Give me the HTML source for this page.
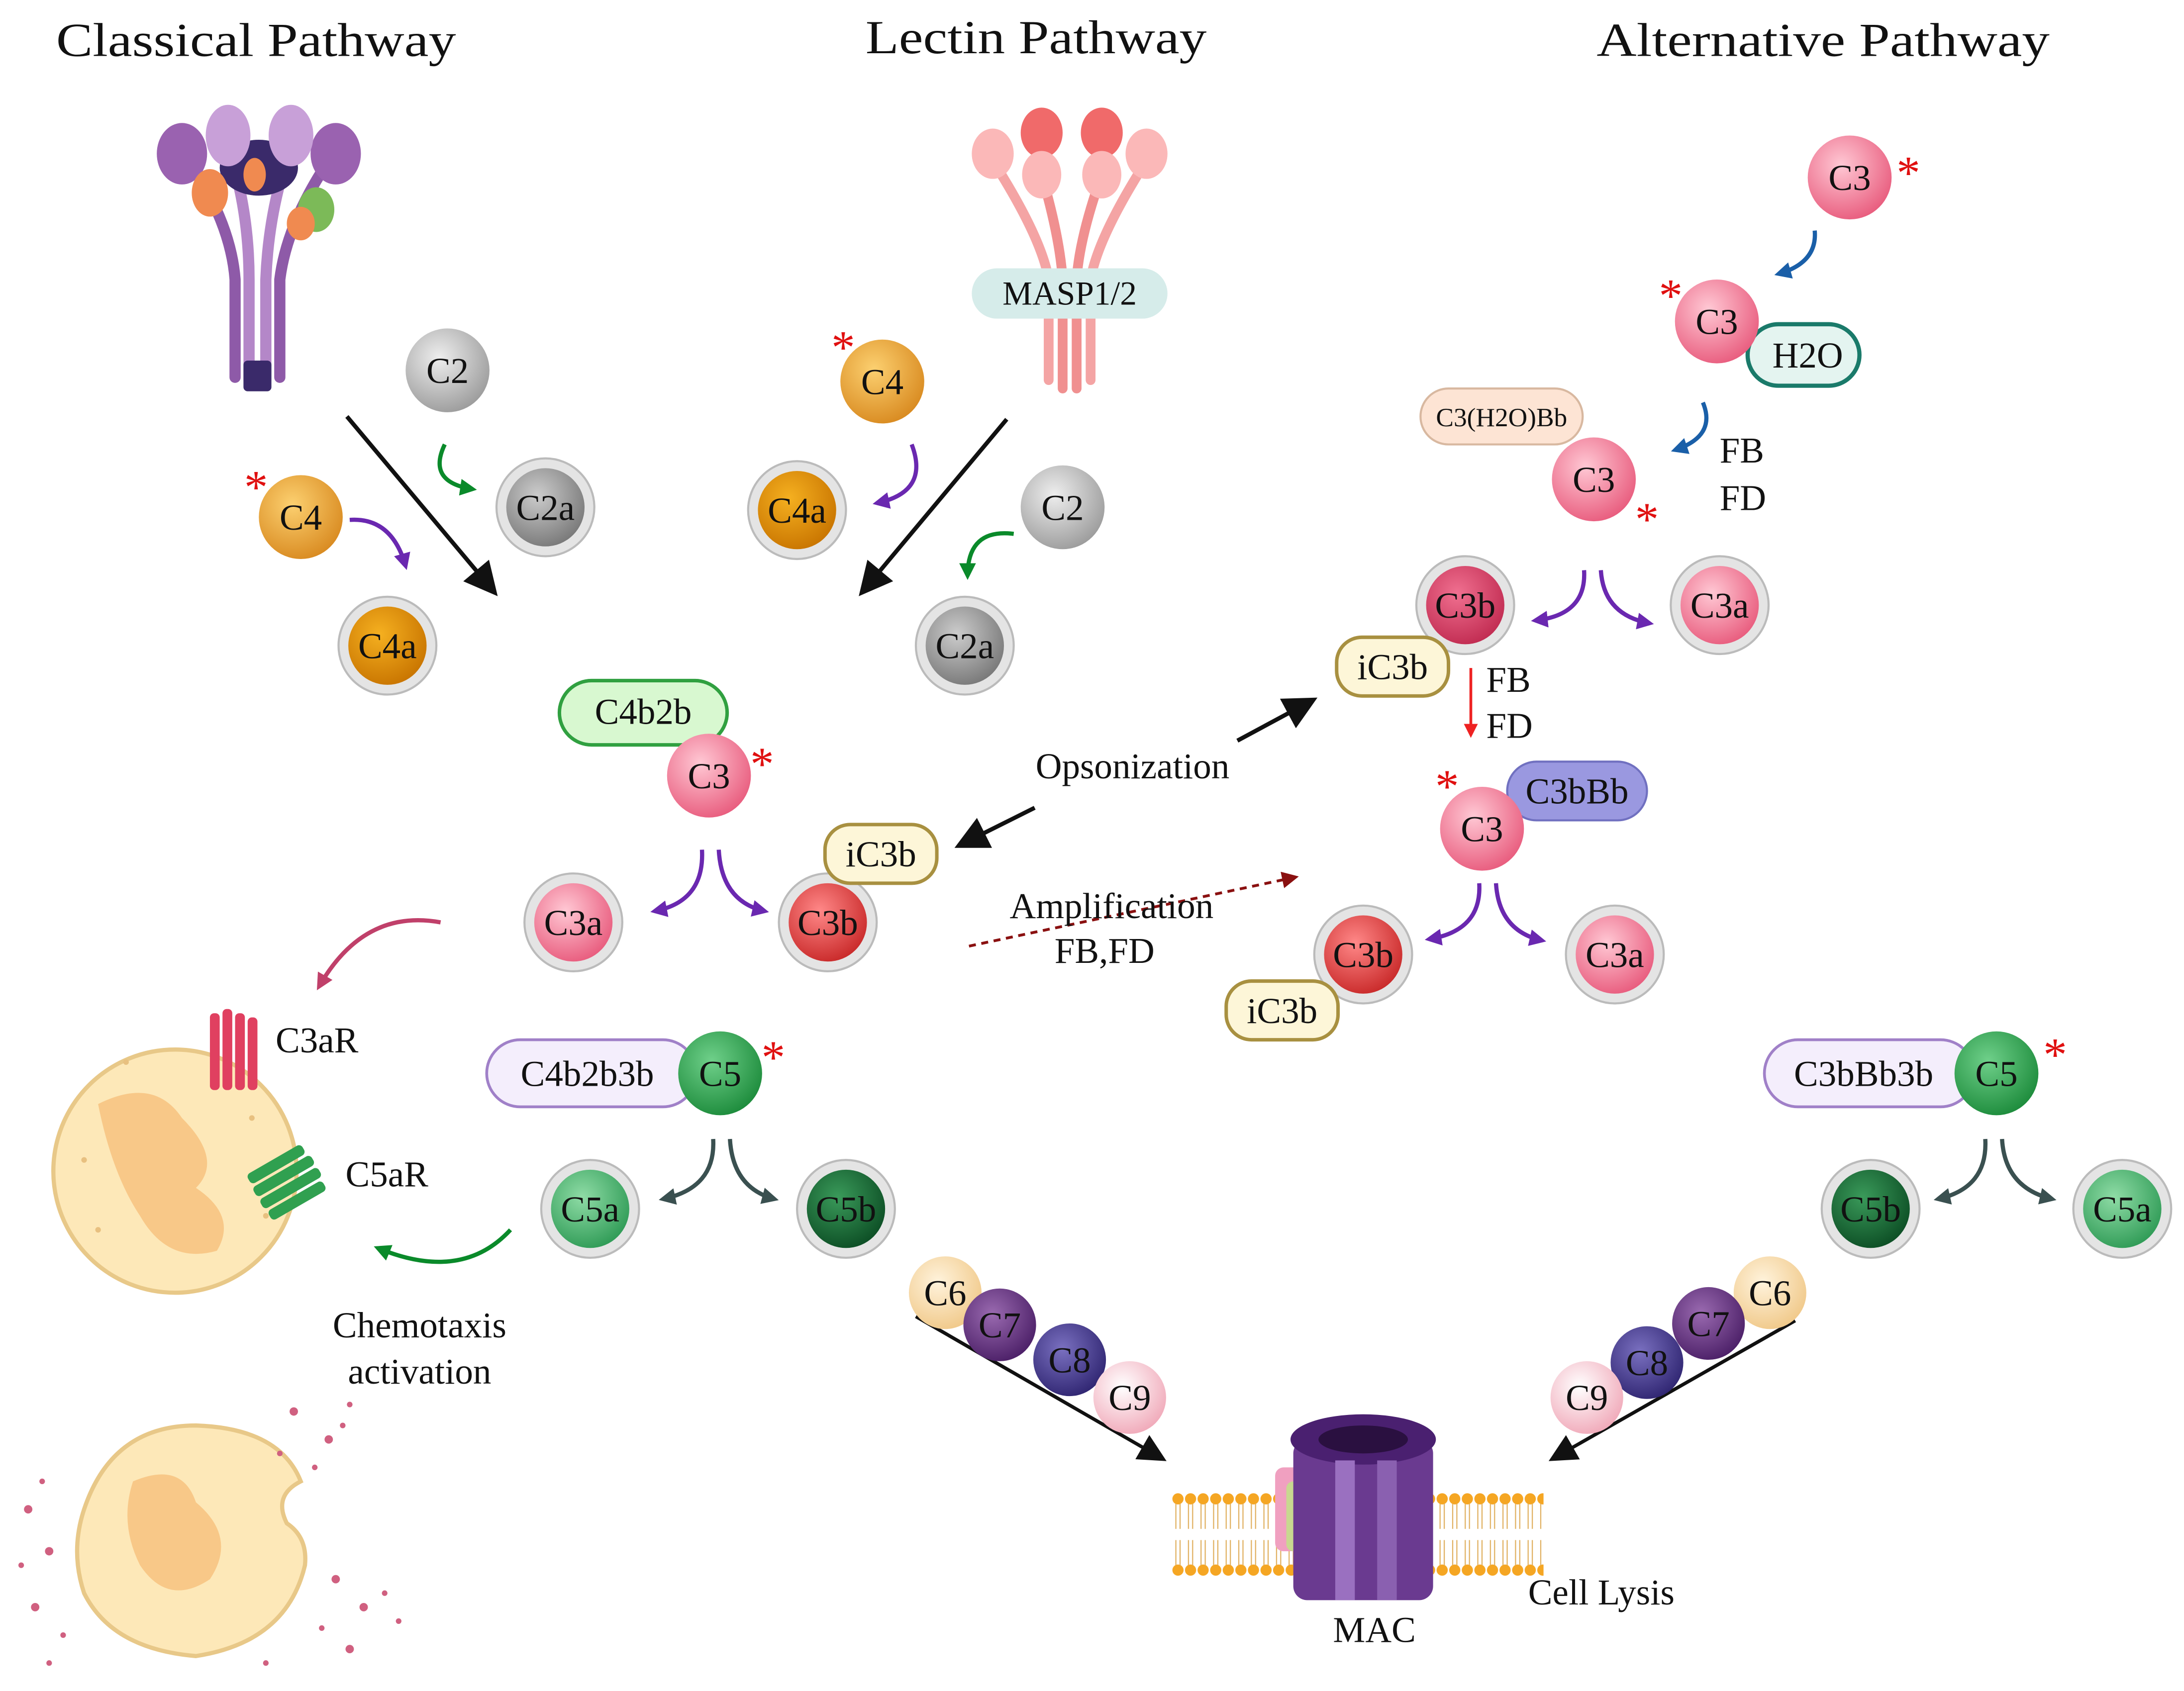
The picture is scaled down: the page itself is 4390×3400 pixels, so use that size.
<!DOCTYPE html>
<html><head><meta charset="utf-8"><style>
html,body{margin:0;padding:0;background:#fff;}
svg{display:block;}
text{font-family:"Liberation Serif",serif;fill:#111;}
</style></head><body>
<svg width="4390" height="3400" viewBox="0 0 1562 1210" xmlns="http://www.w3.org/2000/svg">
<defs>
<radialGradient id="gGrey" cx="0.4" cy="0.35" r="0.7"><stop offset="0" stop-color="#eee"/><stop offset="1" stop-color="#9a9a9a"/></radialGradient>
<radialGradient id="gGreyD" cx="0.4" cy="0.35" r="0.7"><stop offset="0" stop-color="#ccc"/><stop offset="1" stop-color="#777"/></radialGradient>
<radialGradient id="gOr" cx="0.4" cy="0.35" r="0.7"><stop offset="0" stop-color="#fcd070"/><stop offset="1" stop-color="#d8891f"/></radialGradient>
<radialGradient id="gOrD" cx="0.4" cy="0.35" r="0.7"><stop offset="0" stop-color="#f5b020"/><stop offset="1" stop-color="#c87400"/></radialGradient>
<radialGradient id="gPk" cx="0.4" cy="0.35" r="0.7"><stop offset="0" stop-color="#ffc8d4"/><stop offset="1" stop-color="#e85a7c"/></radialGradient>
<radialGradient id="gPkD" cx="0.4" cy="0.35" r="0.7"><stop offset="0" stop-color="#f07090"/><stop offset="1" stop-color="#c02a50"/></radialGradient>
<radialGradient id="gRd" cx="0.4" cy="0.35" r="0.7"><stop offset="0" stop-color="#f88"/><stop offset="1" stop-color="#c82828"/></radialGradient>
<radialGradient id="gGn" cx="0.4" cy="0.35" r="0.7"><stop offset="0" stop-color="#6fd08a"/><stop offset="1" stop-color="#1b8a3a"/></radialGradient>
<radialGradient id="gGnD" cx="0.4" cy="0.35" r="0.7"><stop offset="0" stop-color="#3a9a5a"/><stop offset="1" stop-color="#0c4d24"/></radialGradient>
<radialGradient id="gGnL" cx="0.4" cy="0.35" r="0.7"><stop offset="0" stop-color="#8fdca6"/><stop offset="1" stop-color="#2e9a55"/></radialGradient>
<radialGradient id="gPe" cx="0.4" cy="0.35" r="0.7"><stop offset="0" stop-color="#fff3dc"/><stop offset="1" stop-color="#f0c888"/></radialGradient>
<radialGradient id="gPu" cx="0.4" cy="0.35" r="0.7"><stop offset="0" stop-color="#9a6ab0"/><stop offset="1" stop-color="#4a1e66"/></radialGradient>
<radialGradient id="gBl" cx="0.4" cy="0.35" r="0.7"><stop offset="0" stop-color="#7a70c0"/><stop offset="1" stop-color="#2e2470"/></radialGradient>
<radialGradient id="gLp" cx="0.4" cy="0.35" r="0.7"><stop offset="0" stop-color="#fff"/><stop offset="1" stop-color="#f0a8b8"/></radialGradient>
<marker id="ak" markerWidth="8" markerHeight="8" refX="6" refY="4" orient="auto" markerUnits="strokeWidth"><path d="M0,0 L8,4 L0,8 z" fill="#111"/></marker>
<marker id="ap" markerWidth="4" markerHeight="4" refX="3" refY="2" orient="auto" markerUnits="strokeWidth"><path d="M0,0 L4,2 L0,4 z" fill="#6a28b0"/></marker>
<marker id="ag" markerWidth="4" markerHeight="4" refX="3" refY="2" orient="auto" markerUnits="strokeWidth"><path d="M0,0 L4,2 L0,4 z" fill="#0a8a2a"/></marker>
<marker id="ab" markerWidth="4" markerHeight="4" refX="3" refY="2" orient="auto" markerUnits="strokeWidth"><path d="M0,0 L4,2 L0,4 z" fill="#1a5fa8"/></marker>
<marker id="as" markerWidth="4" markerHeight="4" refX="3" refY="2" orient="auto" markerUnits="strokeWidth"><path d="M0,0 L4,2 L0,4 z" fill="#3a5050"/></marker>
<marker id="ar" markerWidth="5" markerHeight="5" refX="3" refY="2.5" orient="auto" markerUnits="strokeWidth"><path d="M0,0 L5,2.5 L0,5 z" fill="#e22"/></marker>
<marker id="adr" markerWidth="6" markerHeight="6" refX="4" refY="3" orient="auto" markerUnits="strokeWidth"><path d="M0,0 L6,3 L0,6 z" fill="#8a1010"/></marker>
<marker id="apk" markerWidth="4" markerHeight="4" refX="3" refY="2" orient="auto" markerUnits="strokeWidth"><path d="M0,0 L4,2 L0,4 z" fill="#c0406a"/></marker>
<pattern id="lipTop" x="838" y="1068" width="9" height="60" patternUnits="userSpaceOnUse">
<circle cx="4.5" cy="4.5" r="4" fill="#f5a623"/><line x1="3" y1="8" x2="3" y2="26" stroke="#e0b060" stroke-width="0.8"/><line x1="6" y1="8" x2="6" y2="26" stroke="#e0b060" stroke-width="0.8"/>
<circle cx="4.5" cy="55.5" r="4" fill="#f5a623"/><line x1="3" y1="34" x2="3" y2="52" stroke="#e0b060" stroke-width="0.8"/><line x1="6" y1="34" x2="6" y2="52" stroke="#e0b060" stroke-width="0.8"/>
</pattern>
</defs>

<!-- Titles -->
<text x="40" y="40" font-size="34" textLength="286" lengthAdjust="spacingAndGlyphs">Classical Pathway</text>
<text x="619" y="38" font-size="34" textLength="244" lengthAdjust="spacingAndGlyphs">Lectin Pathway</text>
<text x="1142" y="40" font-size="34" textLength="324" lengthAdjust="spacingAndGlyphs">Alternative Pathway</text>

<!-- Classical receptor -->
<g>
<path d="M135,115 Q165,160 168,200 L168,270" stroke="#8e5aa8" stroke-width="8" fill="none" stroke-linecap="round"/>
<path d="M235,115 Q205,160 200,200 L200,270" stroke="#8e5aa8" stroke-width="8" fill="none" stroke-linecap="round"/>
<path d="M163,105 Q178,150 178,200 L178,272" stroke="#b487c8" stroke-width="8" fill="none" stroke-linecap="round"/>
<path d="M208,105 Q192,150 190,200 L190,272" stroke="#b487c8" stroke-width="8" fill="none" stroke-linecap="round"/>
<rect x="174" y="258" width="20" height="22" rx="3" fill="#3a2a6a"/>
<ellipse cx="185" cy="120" rx="28" ry="20" fill="#3a2a6a"/>
<ellipse cx="130" cy="110" rx="18" ry="22" fill="#9a62b0"/>
<ellipse cx="240" cy="110" rx="18" ry="22" fill="#9a62b0"/>
<ellipse cx="163" cy="97" rx="16" ry="22" fill="#c8a0d8"/>
<ellipse cx="208" cy="97" rx="16" ry="22" fill="#c8a0d8"/>
<ellipse cx="150" cy="138" rx="13" ry="17" fill="#f08a50"/>
<ellipse cx="226" cy="150" rx="13" ry="16" fill="#7cba58"/>
<ellipse cx="215" cy="160" rx="10" ry="12" fill="#f08a50"/>
<ellipse cx="182" cy="125" rx="8" ry="12" fill="#f08a50"/>
</g>

<!-- Lectin receptor -->
<g>
<path d="M710,115 Q745,170 750,200 L750,272" stroke="#f4a4a4" stroke-width="7" fill="none" stroke-linecap="round"/>
<path d="M820,115 Q785,170 780,200 L780,272" stroke="#f4a4a4" stroke-width="7" fill="none" stroke-linecap="round"/>
<path d="M745,125 Q758,170 760,200 L760,278" stroke="#f09090" stroke-width="7" fill="none" stroke-linecap="round"/>
<path d="M788,125 Q772,170 770,200 L770,278" stroke="#f09090" stroke-width="7" fill="none" stroke-linecap="round"/>
<ellipse cx="745" cy="95" rx="15" ry="18" fill="#f06a6a"/>
<ellipse cx="788" cy="95" rx="15" ry="18" fill="#f06a6a"/>
<ellipse cx="710" cy="110" rx="15" ry="18" fill="#fbb8b8"/>
<ellipse cx="820" cy="110" rx="15" ry="18" fill="#fbb8b8"/>
<ellipse cx="745" cy="125" rx="14" ry="17" fill="#fbb8b8"/>
<ellipse cx="788" cy="125" rx="14" ry="17" fill="#fbb8b8"/>
<rect x="695" y="192" width="140" height="36" rx="18" fill="#d6ecea"/>
<text x="765" y="218" font-size="24" text-anchor="middle">MASP1/2</text>
</g>

<!-- black arrows -->
<line x1="248" y1="298" x2="352" y2="422" stroke="#111" stroke-width="3" marker-end="url(#ak)"/>
<line x1="720" y1="300" x2="618" y2="422" stroke="#111" stroke-width="3" marker-end="url(#ak)"/>
<line x1="885" y1="530" x2="937" y2="502" stroke="#111" stroke-width="3" marker-end="url(#ak)"/>
<line x1="740" y1="578" x2="688" y2="604" stroke="#111" stroke-width="3" marker-end="url(#ak)"/>
<line x1="655" y1="942" x2="830" y2="1043" stroke="#111" stroke-width="2.5" marker-end="url(#ak)"/>
<line x1="1284" y1="945" x2="1112" y2="1043" stroke="#111" stroke-width="2.5" marker-end="url(#ak)"/>

<!-- curved small arrows -->
<g fill="none" stroke-width="3">
<path d="M318,318 Q305,345 338,350" stroke="#0a8a2a" marker-end="url(#ag)"/>
<path d="M250,372 Q280,370 290,405" stroke="#6a28b0" marker-end="url(#ap)"/>
<path d="M652,318 Q665,352 627,360" stroke="#6a28b0" marker-end="url(#ap)"/>
<path d="M725,382 Q692,378 692,412" stroke="#0a8a2a" marker-end="url(#ag)"/>
<path d="M1298,165 Q1300,188 1272,196" stroke="#1a5fa8" marker-end="url(#ab)"/>
<path d="M1218,288 Q1228,312 1198,322" stroke="#1a5fa8" marker-end="url(#ab)"/>
<path d="M1133,408 Q1135,440 1098,444" stroke="#6a28b0" marker-end="url(#ap)"/>
<path d="M1145,408 Q1147,440 1180,446" stroke="#6a28b0" marker-end="url(#ap)"/>
<path d="M1058,632 Q1060,666 1022,672" stroke="#6a28b0" marker-end="url(#ap)"/>
<path d="M1070,632 Q1072,666 1103,673" stroke="#6a28b0" marker-end="url(#ap)"/>
<path d="M502,608 Q504,645 468,652" stroke="#6a28b0" marker-end="url(#ap)"/>
<path d="M514,608 Q516,645 547,652" stroke="#6a28b0" marker-end="url(#ap)"/>
<path d="M510,815 Q512,850 474,858" stroke="#3a5050" marker-end="url(#as)"/>
<path d="M522,815 Q524,850 554,858" stroke="#3a5050" marker-end="url(#as)"/>
<path d="M1420,815 Q1422,850 1386,858" stroke="#3a5050" marker-end="url(#as)"/>
<path d="M1432,815 Q1434,850 1468,858" stroke="#3a5050" marker-end="url(#as)"/>
<path d="M315,660 Q260,650 228,706" stroke="#c0406a" marker-end="url(#apk)"/>
<path d="M365,880 Q330,918 270,893" stroke="#0a8a2a" marker-end="url(#ag)"/>
</g>
<line x1="1052" y1="478" x2="1052" y2="524" stroke="#e22" stroke-width="2" marker-end="url(#ar)"/>
<line x1="693" y1="677" x2="925" y2="628" stroke="#8a1010" stroke-width="2" stroke-dasharray="5,4" marker-end="url(#adr)"/>

<!-- Balls -->
<g font-size="26" text-anchor="middle">
<g fill="#e4e4e4" stroke="#bbb" stroke-width="1.5">
<circle cx="390" cy="363" r="35"/><circle cx="277" cy="462" r="35"/>
<circle cx="570" cy="365" r="35"/><circle cx="690" cy="462" r="35"/>
<circle cx="1048" cy="433" r="35"/><circle cx="1230" cy="433" r="35"/>
<circle cx="975" cy="683" r="35"/><circle cx="1155" cy="683" r="35"/>
<circle cx="410" cy="660" r="35"/><circle cx="592" cy="660" r="35"/>
<circle cx="422" cy="865" r="35"/><circle cx="605" cy="865" r="35"/>
<circle cx="1338" cy="865" r="35"/><circle cx="1518" cy="865" r="35"/>
</g>
<circle cx="320" cy="265" r="30" fill="url(#gGrey)"/><text x="320" y="274">C2</text>
<circle cx="390" cy="363" r="28" fill="url(#gGreyD)"/><text x="390" y="372">C2a</text>
<circle cx="215" cy="370" r="30" fill="url(#gOr)"/><text x="215" y="379">C4</text>
<circle cx="277" cy="462" r="28" fill="url(#gOrD)"/><text x="277" y="471">C4a</text>
<circle cx="631" cy="273" r="30" fill="url(#gOr)"/><text x="631" y="282">C4</text>
<circle cx="570" cy="365" r="28" fill="url(#gOrD)"/><text x="570" y="374">C4a</text>
<circle cx="760" cy="363" r="30" fill="url(#gGrey)"/><text x="760" y="372">C2</text>
<circle cx="690" cy="462" r="28" fill="url(#gGreyD)"/><text x="690" y="471">C2a</text>

<circle cx="1323" cy="127" r="30" fill="url(#gPk)"/><text x="1323" y="136">C3</text>
<rect x="1250" y="232" width="80" height="44" rx="22" fill="#e4f4f0" stroke="#1a7a6a" stroke-width="3"/>
<text x="1293" y="263">H2O</text>
<circle cx="1228" cy="230" r="30" fill="url(#gPk)"/><text x="1228" y="239">C3</text>
<rect x="1016" y="278" width="116" height="40" rx="20" fill="#fde4d4" stroke="#d8b8a0" stroke-width="1.5"/>
<text x="1074" y="305" font-size="19">C3(H2O)Bb</text>
<circle cx="1140" cy="343" r="30" fill="url(#gPk)"/><text x="1140" y="352">C3</text>
<circle cx="1048" cy="433" r="28" fill="url(#gPkD)"/><text x="1048" y="442">C3b</text>
<circle cx="1230" cy="433" r="28" fill="url(#gPk)"/><text x="1230" y="442">C3a</text>
<rect x="956" y="456" width="80" height="42" rx="18" fill="#fdf6d8" stroke="#a89040" stroke-width="2.5"/>
<text x="996" y="486">iC3b</text>
<rect x="1078" y="545" width="100" height="42" rx="21" fill="#9a98e0" stroke="#7070c0" stroke-width="1.5"/>
<text x="1128" y="575">C3bBb</text>
<circle cx="1060" cy="593" r="30" fill="url(#gPk)"/><text x="1060" y="602">C3</text>
<circle cx="975" cy="683" r="28" fill="url(#gRd)"/><text x="975" y="692">C3b</text>
<rect x="877" y="702" width="80" height="42" rx="18" fill="#fdf6d8" stroke="#a89040" stroke-width="2.5"/>
<text x="917" y="732">iC3b</text>
<circle cx="1155" cy="683" r="28" fill="url(#gPk)"/><text x="1155" y="692">C3a</text>

<rect x="400" y="487" width="120" height="46" rx="23" fill="#d8f8d0" stroke="#30a040" stroke-width="2.5"/>
<text x="460" y="518">C4b2b</text>
<circle cx="507" cy="555" r="30" fill="url(#gPk)"/><text x="507" y="564">C3</text>
<rect x="590" y="590" width="80" height="42" rx="18" fill="#fdf6d8" stroke="#a89040" stroke-width="2.5"/>
<text x="630" y="620">iC3b</text>
<circle cx="410" cy="660" r="28" fill="url(#gPk)"/><text x="410" y="669">C3a</text>
<circle cx="592" cy="660" r="28" fill="url(#gRd)"/><text x="592" y="669">C3b</text>

<rect x="348" y="744" width="150" height="48" rx="24" fill="#f4eefc" stroke="#a080c8" stroke-width="2"/>
<text x="420" y="777">C4b2b3b</text>
<circle cx="515" cy="768" r="30" fill="url(#gGn)"/><text x="515" y="777">C5</text>
<circle cx="422" cy="865" r="28" fill="url(#gGnL)"/><text x="422" y="874">C5a</text>
<circle cx="605" cy="865" r="28" fill="url(#gGnD)"/><text x="605" y="874">C5b</text>

<rect x="1262" y="744" width="150" height="48" rx="24" fill="#f4eefc" stroke="#a080c8" stroke-width="2"/>
<text x="1333" y="777">C3bBb3b</text>
<circle cx="1428" cy="768" r="30" fill="url(#gGn)"/><text x="1428" y="777">C5</text>
<circle cx="1338" cy="865" r="28" fill="url(#gGnD)"/><text x="1338" y="874">C5b</text>
<circle cx="1518" cy="865" r="28" fill="url(#gGnL)"/><text x="1518" y="874">C5a</text>

<circle cx="676" cy="925" r="26" fill="url(#gPe)"/><text x="676" y="934">C6</text>
<circle cx="715" cy="948" r="26" fill="url(#gPu)"/><text x="715" y="957">C7</text>
<circle cx="765" cy="973" r="26" fill="url(#gBl)"/><text x="765" y="982">C8</text>
<circle cx="808" cy="1000" r="26" fill="url(#gLp)"/><text x="808" y="1009">C9</text>
<circle cx="1266" cy="925" r="26" fill="url(#gPe)"/><text x="1266" y="934">C6</text>
<circle cx="1222" cy="947" r="26" fill="url(#gPu)"/><text x="1222" y="956">C7</text>
<circle cx="1178" cy="975" r="26" fill="url(#gBl)"/><text x="1178" y="984">C8</text>
<circle cx="1135" cy="1000" r="26" fill="url(#gLp)"/><text x="1135" y="1009">C9</text>
</g>

<!-- asterisks -->
<g font-size="34" text-anchor="middle">
<text x="183" y="360" style="fill:#e01010">*</text>
<text x="603" y="260" style="fill:#e01010">*</text>
<text x="1365" y="135" style="fill:#e01010">*</text>
<text x="1195" y="223" style="fill:#e01010">*</text>
<text x="1178" y="383" style="fill:#e01010">*</text>
<text x="1035" y="574" style="fill:#e01010">*</text>
<text x="545" y="558" style="fill:#e01010">*</text>
<text x="553" y="768" style="fill:#e01010">*</text>
<text x="1470" y="766" style="fill:#e01010">*</text>
</g>

<!-- labels -->
<g font-size="26">
<text x="1230" y="331">FB</text><text x="1230" y="365">FD</text>
<text x="1063" y="495">FB</text><text x="1063" y="528">FD</text>
<text x="810" y="557" text-anchor="middle">Opsonization</text>
<text x="795" y="657" text-anchor="middle">Amplification</text>
<text x="790" y="689" text-anchor="middle">FB,FD</text>
<text x="197" y="753">C3aR</text>
<text x="247" y="849">C5aR</text>
<text x="300" y="957" text-anchor="middle">Chemotaxis</text>
<text x="300" y="990" text-anchor="middle">activation</text>
<text x="983" y="1175" text-anchor="middle">MAC</text>
<text x="1093" y="1148">Cell Lysis</text>
</g>

<!-- cell 1 -->
<circle cx="125" cy="838" r="87" fill="#fde8b8" stroke="#e8c888" stroke-width="3"/>
<path d="M70,790 Q110,770 130,800 Q160,830 140,850 Q170,870 155,895 Q120,905 100,870 Q80,840 70,790 z" fill="#f8c888"/>
<g fill="#e8c080"><circle cx="60" cy="830" r="2"/><circle cx="90" cy="760" r="2"/><circle cx="180" cy="800" r="2"/><circle cx="70" cy="880" r="2"/><circle cx="190" cy="870" r="2"/></g>
<g fill="#e04060"><rect x="150" y="725" width="7" height="55" rx="3"/><rect x="159" y="722" width="7" height="58" rx="3"/><rect x="168" y="725" width="7" height="55" rx="3"/><rect x="177" y="728" width="7" height="52" rx="3"/></g>
<g fill="#30a050" transform="rotate(60 210 850)"><rect x="185" y="830" width="8" height="45" rx="3"/><rect x="195" y="828" width="8" height="48" rx="3"/><rect x="205" y="828" width="8" height="48" rx="3"/><rect x="215" y="830" width="8" height="45" rx="3"/></g>

<!-- lysed cell -->
<path d="M60,1080 Q80,1020 140,1020 Q200,1022 215,1060 Q195,1070 205,1090 Q220,1100 218,1120 Q205,1175 140,1185 Q80,1180 60,1140 Q50,1110 60,1080 z" fill="#fde8b8" stroke="#e8c888" stroke-width="3"/>
<path d="M95,1060 Q130,1045 140,1075 Q170,1100 150,1130 Q120,1150 100,1120 Q85,1090 95,1060 z" fill="#f8c888"/>
<g fill="#d06080">
<circle cx="20" cy="1080" r="3"/><circle cx="35" cy="1110" r="3"/><circle cx="25" cy="1150" r="3"/><circle cx="45" cy="1170" r="2"/><circle cx="15" cy="1120" r="2"/>
<circle cx="210" cy="1010" r="3"/><circle cx="235" cy="1030" r="3"/><circle cx="250" cy="1005" r="2"/><circle cx="225" cy="1050" r="2"/><circle cx="200" cy="1040" r="2"/><circle cx="245" cy="1020" r="2"/>
<circle cx="240" cy="1130" r="3"/><circle cx="260" cy="1150" r="3"/><circle cx="230" cy="1165" r="2"/><circle cx="275" cy="1140" r="2"/><circle cx="250" cy="1180" r="3"/><circle cx="285" cy="1160" r="2"/>
<circle cx="35" cy="1190" r="2"/><circle cx="190" cy="1190" r="2"/><circle cx="30" cy="1060" r="2"/>
</g>

<!-- membrane -->
<g>
<rect x="838" y="1068" width="266" height="60" fill="url(#lipTop)"/>
<rect x="912" y="1050" width="20" height="60" rx="6" fill="#f0a0c0"/>
<rect x="920" y="1060" width="14" height="50" rx="5" fill="#c8d890"/>
<rect x="925" y="1030" width="100" height="115" rx="10" fill="#6a3a90"/>
<ellipse cx="975" cy="1030" rx="52" ry="18" fill="#4a2070"/>
<ellipse cx="975" cy="1030" rx="32" ry="10" fill="#2a1040"/>
<rect x="955" y="1045" width="14" height="100" fill="#9a70c0"/>
<rect x="985" y="1045" width="14" height="100" fill="#8a60b0"/>
</g>
</svg>
</body></html>
